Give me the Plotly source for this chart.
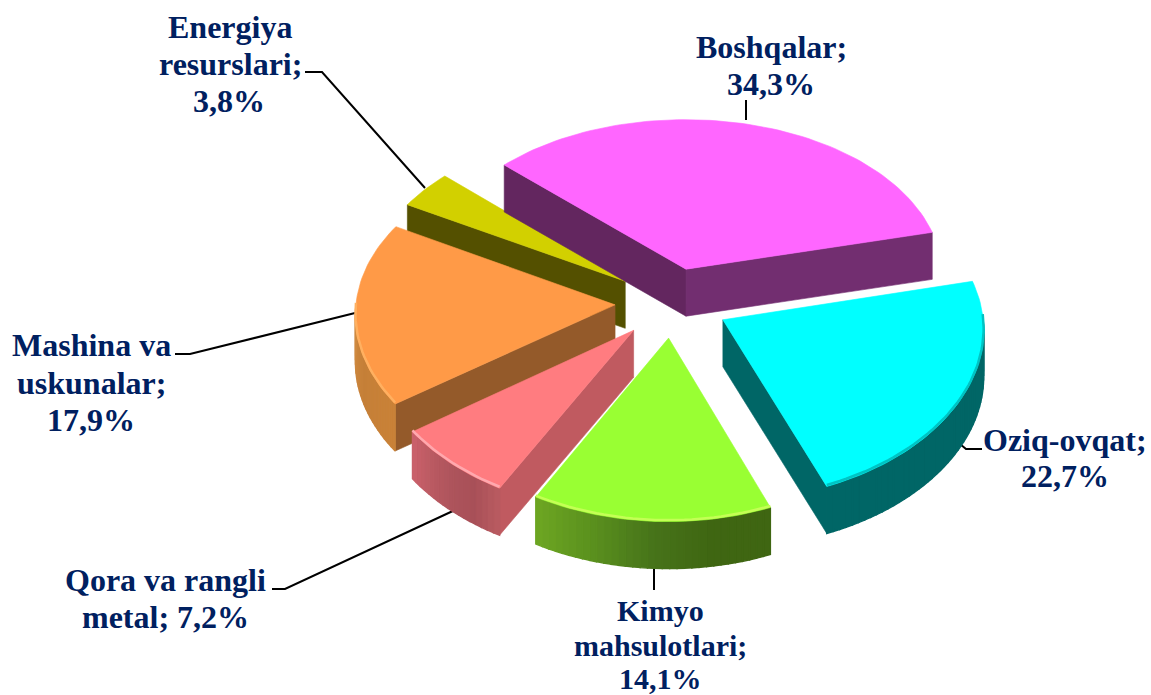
import math
import plotly.graph_objects as go

# ---- data ----
categories = ["Boshqalar", "Oziq-ovqat", "Kimyo mahsulotlari", "Qora va rangli metal",
              "Mashina va uskunalar", "Energiya resurslari"]
values = [34.3, 22.7, 14.1, 7.2, 17.9, 3.8]

# ---- style ----
top_colors = ["#ff66ff", "#00ffff", "#99ff33", "#ff7c80", "#ff9a47", "#d2d000"]
side_start = ["#63265f", "#006666", None, "#c05a60", "#945a2a", "#545000"]
side_end = ["#722e70", "#006666", None, "#c05a60", "#945a2a", "#545000"]
# outer wall colours, listed from the screen-left end to the screen-right end
outer_stops = [
    ["#722e70", "#722e70"],
    ["#006666", "#006666"],
    ["#6ca522", "#5a901e", "#47741a", "#3f6612", "#3f6612"],
    ["#c9606a", "#ba5a62", "#ae545c", "#a85058", "#b85a60"],
    ["#cf8a40", "#c57f38", "#c98238"],
    ["#545000", "#545000"],
]
rim_colors = [None, "#00c4c4", "#c4ff55", "#ffa8ae", "#ffb060", None]
pulls = [0.215, 0.22, 0.21, 0.22, 0.22, 0.225]
draw_order = [5, 0, 4, 1, 3, 2]
START_DEG = -47.0
CX, CY, RX, RY, PX, PY, DEPTH = 672.0, 303.0, 259.0, 165.0, 0.05, 0.072, 47.0
TEXT = "#002060"
FONT = "Liberation Serif"
FSIZE = 32
FSIZE_SMALL = 30

label_lines = [
    (771, 47, "Boshqalar;", FSIZE), (771, 84, "{0}", FSIZE),
    (1065, 440, "Oziq-ovqat;", FSIZE), (1065, 476, "{1}", FSIZE),
    (660, 610, "Kimyo", FSIZE_SMALL), (660, 645, "mahsulotlari;", FSIZE_SMALL), (660, 678, "{2}", FSIZE_SMALL),
    (165, 580, "Qora va rangli", FSIZE), (165, 617, "metal; {3}", FSIZE),
    (91, 345, "Mashina va", FSIZE), (91, 383, "uskunalar;", FSIZE), (91, 420, "{4}", FSIZE),
    (230, 27, "Energiya", FSIZE), (230, 64, "resurslari;", FSIZE), (229, 101, "{5}", FSIZE),
]
leaders = [
    [(746, 100), (746, 120)],
    [(982, 449), (966, 449), (960, 444)],
    [(654, 566), (654, 590)],
    [(272, 589), (285, 589), (455, 510)],
    [(175, 354), (190, 354), (355, 313)],
    [(305, 72), (322, 72), (425, 188)],
]


def project(X, Y):
    return CX + RX * X / (1 + PX * Y), CY - RY * Y / (1 + PY * Y)


def hex_rgb(c):
    return tuple(int(c[i:i + 2], 16) for i in (1, 3, 5))


def ramp(stops, t):
    t = max(0.0, min(1.0, t)) * (len(stops) - 1)
    i = min(int(t), len(stops) - 2)
    f = t - i
    a, b = hex_rgb(stops[i]), hex_rgb(stops[i + 1])
    return "#%02x%02x%02x" % tuple(round(a[k] + (b[k] - a[k]) * f) for k in range(3))


def poly(fig, pts, color, lw=0.6):
    xs = [p[0] for p in pts] + [pts[0][0]]
    ys = [p[1] for p in pts] + [pts[0][1]]
    fig.add_trace(go.Scatter(x=xs, y=ys, mode="lines", fill="toself", fillcolor=color,
                             line=dict(color=color, width=lw), hoverinfo="skip", showlegend=False))


def down(p):
    return (p[0], p[1] + DEPTH)


total = sum(values)
spans = []
a = START_DEG
for v in values:
    b = a + 360.0 * v / total
    spans.append((a, b))
    a = b

fig = go.Figure()
for path in leaders:
    fig.add_trace(go.Scatter(x=[p[0] for p in path], y=[p[1] for p in path], mode="lines",
                             line=dict(color="#000000", width=2), hoverinfo="skip", showlegend=False))

for i in draw_order:
    a0, a1 = spans[i]
    mid = math.radians((a0 + a1) / 2)
    ox, oy = pulls[i] * math.sin(mid), pulls[i] * math.cos(mid)
    apex = project(ox, oy)
    n = max(8, int((a1 - a0) / 1.5))
    angs = [a0 + (a1 - a0) * k / n for k in range(n + 1)]
    arc = [project(ox + math.sin(math.radians(t)), oy + math.cos(math.radians(t))) for t in angs]

    # side walls that face the viewer
    if i == 0:
        poly(fig, [arc[0], apex, down(apex), down(arc[0])], side_start[i])
        poly(fig, [apex, arc[-1], down(arc[-1]), down(apex)], side_end[i])
    elif i == 1:
        poly(fig, [apex, arc[-1], down(arc[-1]), down(apex)], side_start[i])
    elif side_start[i]:
        poly(fig, [apex, arc[0], down(arc[0]), down(apex)], side_start[i])

    # outer curved wall (front half only)
    front = [k for k in range(n) if 90 <= (angs[k] % 360) <= 270 or 90 <= (angs[k + 1] % 360) <= 270]
    if front:
        f0, f1 = front[0], front[-1]
        for k in front:
            t = 1 - (k - f0) / max(1, f1 - f0)   # angle grows right-to-left along the front
            poly(fig, [arc[k], arc[k + 1], down(arc[k + 1]), down(arc[k])], ramp(outer_stops[i], t), 1.4)
    # top face
    poly(fig, [apex] + arc, top_colors[i])
    # rim highlight along the front edge
    if rim_colors[i] and front:
        inner = [(arc[k][0], arc[k][1] - 1.5) for k in range(front[0], front[-1] + 2)]
        fig.add_trace(go.Scatter(x=[p[0] for p in inner], y=[p[1] for p in inner], mode="lines",
                                 line=dict(color=rim_colors[i], width=2.5),
                                 hoverinfo="skip", showlegend=False))

fmt = [f"{v:.1f}%".replace(".", ",") for v in values]
for x, y, s, size in label_lines:
    fig.add_annotation(x=x, y=y, text=s.format(*fmt), showarrow=False, xanchor="center", yanchor="middle",
                       font=dict(family=FONT, size=size, color=TEXT, weight="bold"))

fig.update_layout(width=1151, height=695, margin=dict(l=0, r=0, t=0, b=0),
                  paper_bgcolor="white", plot_bgcolor="white", showlegend=False,
                  xaxis=dict(range=[0, 1151], visible=False, fixedrange=True),
                  yaxis=dict(range=[695, 0], visible=False, fixedrange=True))
fig.write_html("out.html", config={"displayModeBar": False},
               post_script="document.body.style.margin='0';document.documentElement.style.overflow='hidden';")
